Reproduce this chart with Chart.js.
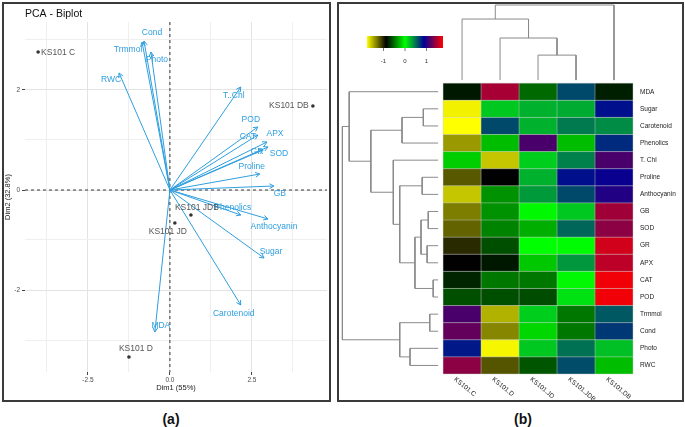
<!DOCTYPE html>
<html>
<head>
<meta charset="utf-8">
<script src="https://cdn.jsdelivr.net/npm/chart.js@4.4.1/dist/chart.umd.min.js"></script>
<style>
  html, body { margin: 0; padding: 0; background: #fff; }
  body { width: 685px; height: 427px; position: relative; overflow: hidden; font-family: "Liberation Sans", Arial, sans-serif; }
  canvas { position: absolute; }
  .frame { position: absolute; border: 2px solid #3a3a3a; box-sizing: border-box; }
  .tag { position: absolute; top: 411px; font-weight: bold; font-size: 14px; transform: translateX(-50%); color: #111; }
</style>
</head>
<body>
<canvas id="biplotChart" width="332" height="405" style="left:0;top:0"></canvas>
<canvas id="heatChart" width="347" height="405" style="left:338px;top:0"></canvas>
<div class="frame" style="left:2px;top:2px;width:329px;height:400px"></div>
<div class="frame" style="left:337px;top:2px;width:347px;height:400px"></div>
<div class="tag" style="left:171px">(a)</div>
<div class="tag" style="left:523px">(b)</div>
<script>
Chart.defaults.font.family = '"Liberation Sans", Arial, sans-serif';

// ---- PCA biplot data ----
const indNames = ['KS101 C', 'KS101 DB', 'KS101 JDB', 'KS101 JD', 'KS101 D'];
const indDim1 = [-4.02, 4.36, 0.64, 0.15, -1.25];
const indDim2 = [2.76, 1.68, -0.50, -0.66, -3.34];

const varNames = ['Cond', 'Trmmol', 'Photo', 'RWC', 'T..Chl', 'POD', 'CAT', 'APX', 'GR', 'SOD',
                  'Proline', 'GB', 'Phenolics', 'Anthocyanin', 'Sugar', 'Carotenoid', 'MDA'];
const varDim1 = [-0.79, -0.85, -0.58, -1.55, 2.16, 2.68, 2.68, 2.96, 2.84, 2.99,
                 2.74, 3.17, 2.16, 2.99, 2.87, 2.16, -0.46];
const varDim2 = [2.98, 2.96, 2.76, 2.34, 2.06, 1.26, 1.10, 0.96, 0.80, 0.86,
                 0.32, 0.08, -0.50, -0.58, -1.36, -2.30, -2.84];

const dim1Ticks = [-3.75, -2.5, -1.25, 0, 1.25, 2.5, 3.75];
const dim2Ticks = [-3, -2, -1, 0, 1, 2, 3];

// ---- heatmap data ----
const hmRows = ['MDA', 'Sugar', 'Carotenoid', 'Phenolics', 'T. Chl', 'Proline', 'Anthocyanin', 'GB', 'SOD',
                'GR', 'APX', 'CAT', 'POD', 'Trmmol', 'Cond', 'Photo', 'RWC'];
const hmCols = ['KS101.C', 'KS101.D', 'KS101.JD', 'KS101.JDB', 'KS101.DB'];
const hmValues = [
  [-0.80, 1.46, -0.52, 0.63, -0.78],
  [-1.72, 0.19, 0.27, 0.29, 0.83],
  [-1.77, 0.63, 0.27, 0.46, 0.40],
  [-1.42, -0.23, 1.14, -0.23, 0.74],
  [-0.17, -1.57, 0.17, 0.44, 1.14],
  [-1.19, -0.88, 0.27, 0.83, 0.92],
  [-1.57, -0.38, 0.35, 0.63, 1.00],
  [-1.32, -0.38, -0.02, 0.19, 1.44],
  [-1.23, -0.43, -0.28, 0.53, 1.37],
  [-1.03, -0.61, 0.00, 0.01, 1.61],
  [-0.88, -0.80, -0.19, 0.36, 1.54],
  [-0.76, -0.47, -0.47, 0.02, 1.72],
  [-0.61, -0.61, -0.62, 0.10, 1.72],
  [1.14, -1.50, 0.17, -0.47, 0.58],
  [1.23, -1.35, -0.14, -0.47, 0.69],
  [0.80, -1.74, 0.19, 0.49, 0.22],
  [1.37, -1.18, -0.59, 0.62, -0.23]
];
const keyTicks = [-1, 0, 1];

// hclust-style merges: negative = leaf (1-based), positive = earlier merge, then height
const rowMerge = [[-12, -13, 0.13], [-14, -15, 0.22], [-8, -9, 0.26], [-10, -11, 0.29], [-2, -3, 0.39],
                  [-6, -7, 0.42], [3, 4, 0.45], [7, 1, 0.61], [-16, -17, 0.74], [5, -4, 0.95],
                  [6, 8, 1.01], [2, 9, 1.01], [-5, 11, 1.18], [10, 13, 1.77], [-1, 14, 2.34], [15, 12, 2.52]];
const colMerge = [[-3, -4, 1.46], [-2, 1, 2.46], [-1, 2, 3.57], [3, -5, 4.39]];

// ---- styles ----
const varColor = '#2E9FDF';
const indColor = '#555555';
const varLabelOffset = {
  Cond: [8, -8], Trmmol: [-14, 8], Photo: [6, 8], RWC: [-8, 7], 'T..Chl': [-7, 9], POD: [-7, -7],
  CAT: [-10, 2], APX: [8, -8], GR: [-6, 2], SOD: [11, 7], Proline: [-8, -7], GB: [6, 8],
  Phenolics: [-8, -7], Anthocyanin: [6, 8], Sugar: [7, -6], Carotenoid: [-7, 9], MDA: [6, -6]
};
const indLabelOffset = { 'KS101 C': [20, 1], 'KS101 DB': [-24, 0], 'KS101 JDB': [6, -7], 'KS101 JD': [-7, 9], 'KS101 D': [7, -8] };

// Drawing the zero lines, arrow heads and text of the biplot
const biplotDecor = {
  id: 'biplotDecor',
  beforeDatasetsDraw(chart) {
    const { ctx, chartArea: a, scales: { x, y } } = chart;
    const x0 = x.getPixelForValue(0), y0 = y.getPixelForValue(0);
    ctx.save();
    ctx.strokeStyle = '#222';
    ctx.lineWidth = 0.9;
    ctx.setLineDash([3, 3]);
    ctx.beginPath();
    ctx.moveTo(x0, a.top); ctx.lineTo(x0, a.bottom);
    ctx.moveTo(a.left, y0); ctx.lineTo(a.right, y0);
    ctx.stroke();
    ctx.restore();
  },
  afterDatasetsDraw(chart) {
    const { ctx, scales: { x, y } } = chart;
    const ox = x.getPixelForValue(0), oy = y.getPixelForValue(0);
    ctx.save();
    ctx.strokeStyle = varColor;
    ctx.lineWidth = 1;
    ctx.fillStyle = varColor;
    ctx.font = '8.5px "Liberation Sans", Arial, sans-serif';
    ctx.textAlign = 'center';
    ctx.textBaseline = 'middle';
    varNames.forEach((n, i) => {
      const px = x.getPixelForValue(varDim1[i]), py = y.getPixelForValue(varDim2[i]);
      const ang = Math.atan2(py - oy, px - ox);
      ctx.beginPath();
      ctx.moveTo(px - 5 * Math.cos(ang - 0.5), py - 5 * Math.sin(ang - 0.5));
      ctx.lineTo(px, py);
      ctx.lineTo(px - 5 * Math.cos(ang + 0.5), py - 5 * Math.sin(ang + 0.5));
      ctx.stroke();
      const off = varLabelOffset[n];
      ctx.fillText(n, px + off[0], py + off[1]);
    });
    ctx.fillStyle = indColor;
    indNames.forEach((n, i) => {
      const off = indLabelOffset[n];
      ctx.fillText(n, x.getPixelForValue(indDim1[i]) + off[0], y.getPixelForValue(indDim2[i]) + off[1]);
    });
    ctx.fillStyle = '#111';
    ctx.textAlign = 'left';
    ctx.font = '10.5px "Liberation Sans", Arial, sans-serif';
    ctx.fillText('PCA - Biplot', 25, 14);
    ctx.restore();
  }
};

const isMajorX = v => Math.abs(v % 2.5) < 1e-9;
const isMajorY = v => Math.abs(v % 2) < 1e-9;

const biplotChart = new Chart(document.getElementById('biplotChart'), {
  type: 'scatter',
  data: {
    datasets: [
      ...varNames.map((n, i) => ({
        label: n,
        data: [{ x: 0, y: 0 }, { x: varDim1[i], y: varDim2[i] }],
        showLine: true,
        borderColor: varColor,
        borderWidth: 1,
        pointRadius: 0
      })),
      {
        label: 'individuals',
        data: indNames.map((n, i) => ({ x: indDim1[i], y: indDim2[i] })),
        pointRadius: 1.8,
        backgroundColor: '#333',
        borderWidth: 0
      }
    ]
  },
  options: {
    responsive: false,
    animation: false,
    events: [],
    layout: { padding: { left: 0, top: 22, right: 5, bottom: 0 } },
    plugins: { legend: { display: false }, tooltip: { enabled: false } },
    scales: {
      x: {
        type: 'linear', min: -4.42, max: 4.79,
        afterBuildTicks: s => { s.ticks = dim1Ticks.map(v => ({ value: v })); },
        afterFit: s => { s.height = 33; },
        border: { display: false },
        grid: {
          color: c => isMajorX(c.tick.value) ? '#e3e3e3' : '#efefef',
          tickColor: c => isMajorX(c.tick.value) ? '#444' : 'rgba(0,0,0,0)',
          tickLength: 3
        },
        ticks: {
          autoSkip: false, maxRotation: 0, padding: 1,
          color: '#4d4d4d', font: { size: 6.5 },
          callback: v => isMajorX(v) ? v.toFixed(1) : ''
        },
        title: { display: true, text: 'Dim1 (55%)', color: '#222', font: { size: 7.5 }, padding: { top: 0, bottom: 12.5 } }
      },
      y: {
        type: 'linear', min: -3.64, max: 3.36,
        afterBuildTicks: s => { s.ticks = dim2Ticks.map(v => ({ value: v })); },
        afterFit: s => { s.width = 25; },
        border: { display: false },
        grid: {
          color: c => isMajorY(c.tick.value) ? '#e3e3e3' : '#efefef',
          tickColor: c => isMajorY(c.tick.value) ? '#444' : 'rgba(0,0,0,0)',
          tickLength: 3
        },
        ticks: {
          autoSkip: false, padding: 2,
          color: '#4d4d4d', font: { size: 6.5 },
          callback: v => isMajorY(v) ? String(v) : ''
        },
        title: { display: true, text: 'Dim2 (32.8%)', color: '#222', font: { size: 7.5 }, padding: { top: 3.5, bottom: 0 } }
      }
    }
  },
  plugins: [biplotDecor]
});

// ---- heatmap ----
const keyStops = [[255, 255, 0], [0, 0, 0], [0, 255, 0], [0, 0, 150], [255, 0, 0]];
const keyRange = [-1.77, 1.77];
function heatColor(v) {
  let t = (v - keyRange[0]) / (keyRange[1] - keyRange[0]);
  t = Math.max(0, Math.min(1, t)) * (keyStops.length - 1);
  const i = Math.min(Math.floor(t), keyStops.length - 2), f = t - i;
  const a = keyStops[i], b = keyStops[i + 1];
  return 'rgb(' + a.map((c, k) => Math.round(c + (b[k] - c) * f)).join(',') + ')';
}

// dendrogram merges -> one polyline per merge, in (leaf position, height)
function dendroPaths(merge) {
  const pos = [], hgt = [];
  const at = id => id < 0 ? [-id - 0.5, 0] : [pos[id - 1], hgt[id - 1]];
  return merge.map(([a, b, h], k) => {
    const [pa, ha] = at(a), [pb, hb] = at(b);
    pos[k] = (pa + pb) / 2; hgt[k] = h;
    return [[pa, ha], [pa, h], [pb, h], [pb, hb]];
  });
}
const rowGap = 0.13, colGap = 0.18;
const dendroStyle = { showLine: true, borderColor: '#8a8a8a', borderWidth: 1, pointRadius: 0, clip: false };

const heatDecor = {
  id: 'heatDecor',
  beforeDatasetsDraw(chart) {
    const { ctx, scales: { x, y } } = chart;
    ctx.save();
    hmValues.forEach((row, r) => row.forEach((v, c) => {
      const x0 = x.getPixelForValue(c), x1 = x.getPixelForValue(c + 1);
      const y0 = y.getPixelForValue(r), y1 = y.getPixelForValue(r + 1);
      ctx.fillStyle = heatColor(v);
      ctx.fillRect(x0, y0, x1 - x0, y1 - y0);
    }));
    ctx.strokeStyle = 'rgba(200,210,200,0.55)';
    ctx.lineWidth = 0.8;
    for (let c = 0; c <= hmCols.length; c++) {
      const px = x.getPixelForValue(c);
      ctx.beginPath(); ctx.moveTo(px, y.getPixelForValue(0)); ctx.lineTo(px, y.getPixelForValue(hmRows.length)); ctx.stroke();
    }
    for (let r = 0; r <= hmRows.length; r++) {
      const py = y.getPixelForValue(r);
      ctx.beginPath(); ctx.moveTo(x.getPixelForValue(0), py); ctx.lineTo(x.getPixelForValue(hmCols.length), py); ctx.stroke();
    }
    ctx.restore();
  },
  afterDraw(chart) {
    const { ctx, scales: { x, y } } = chart;
    ctx.save();
    // row labels
    ctx.fillStyle = '#222';
    ctx.font = '6.5px "Liberation Sans", Arial, sans-serif';
    ctx.textAlign = 'left';
    ctx.textBaseline = 'middle';
    const lx = x.getPixelForValue(hmCols.length) + 7;
    hmRows.forEach((n, r) => ctx.fillText(n, lx, y.getPixelForValue(r + 0.5)));
    // column labels
    ctx.textBaseline = 'top';
    const ly = y.getPixelForValue(hmRows.length) + 2;
    hmCols.forEach((n, c) => {
      ctx.save();
      ctx.translate(x.getPixelForValue(c + 0.5) - 5, ly);
      ctx.rotate(40 * Math.PI / 180);
      ctx.fillText(n, 0, 0);
      ctx.restore();
    });
    // colour key
    const kx = 29, kw = 76, ky = 36, kh = 12;
    const g = ctx.createLinearGradient(kx, 0, kx + kw, 0);
    keyStops.forEach((s, i) => g.addColorStop(i / (keyStops.length - 1), 'rgb(' + s.join(',') + ')'));
    ctx.fillStyle = g;
    ctx.fillRect(kx, ky, kw, kh);
    ctx.strokeStyle = '#555';
    ctx.lineWidth = 0.8;
    ctx.fillStyle = '#333';
    ctx.font = '6px "Liberation Sans", Arial, sans-serif';
    ctx.textAlign = 'center';
    ctx.textBaseline = 'middle';
    keyTicks.forEach(v => {
      const px = kx + (v - keyRange[0]) / (keyRange[1] - keyRange[0]) * kw;
      ctx.beginPath(); ctx.moveTo(px, ky + kh); ctx.lineTo(px, ky + kh + 3); ctx.stroke();
      ctx.fillText(String(v), px, 61);
    });
    ctx.restore();
  }
};

const heatChart = new Chart(document.getElementById('heatChart'), {
  type: 'scatter',
  data: {
    datasets: [
      ...dendroPaths(rowMerge).map(p => ({ ...dendroStyle, data: p.map(([pos, h]) => ({ x: -(rowGap + h), y: pos })) })),
      ...dendroPaths(colMerge).map(p => ({ ...dendroStyle, data: p.map(([pos, h]) => ({ x: pos, y: -(colGap + h) })) }))
    ]
  },
  options: {
    responsive: false,
    animation: false,
    events: [],
    layout: { padding: { left: 4, top: 5, right: 52, bottom: 31 } },
    plugins: { legend: { display: false }, tooltip: { enabled: false } },
    scales: {
      x: { type: 'linear', min: -2.66, max: 5, display: false },
      y: { type: 'linear', min: -4.57, max: 17, reverse: true, display: false }
    }
  },
  plugins: [heatDecor]
});
</script>
</body>
</html>
